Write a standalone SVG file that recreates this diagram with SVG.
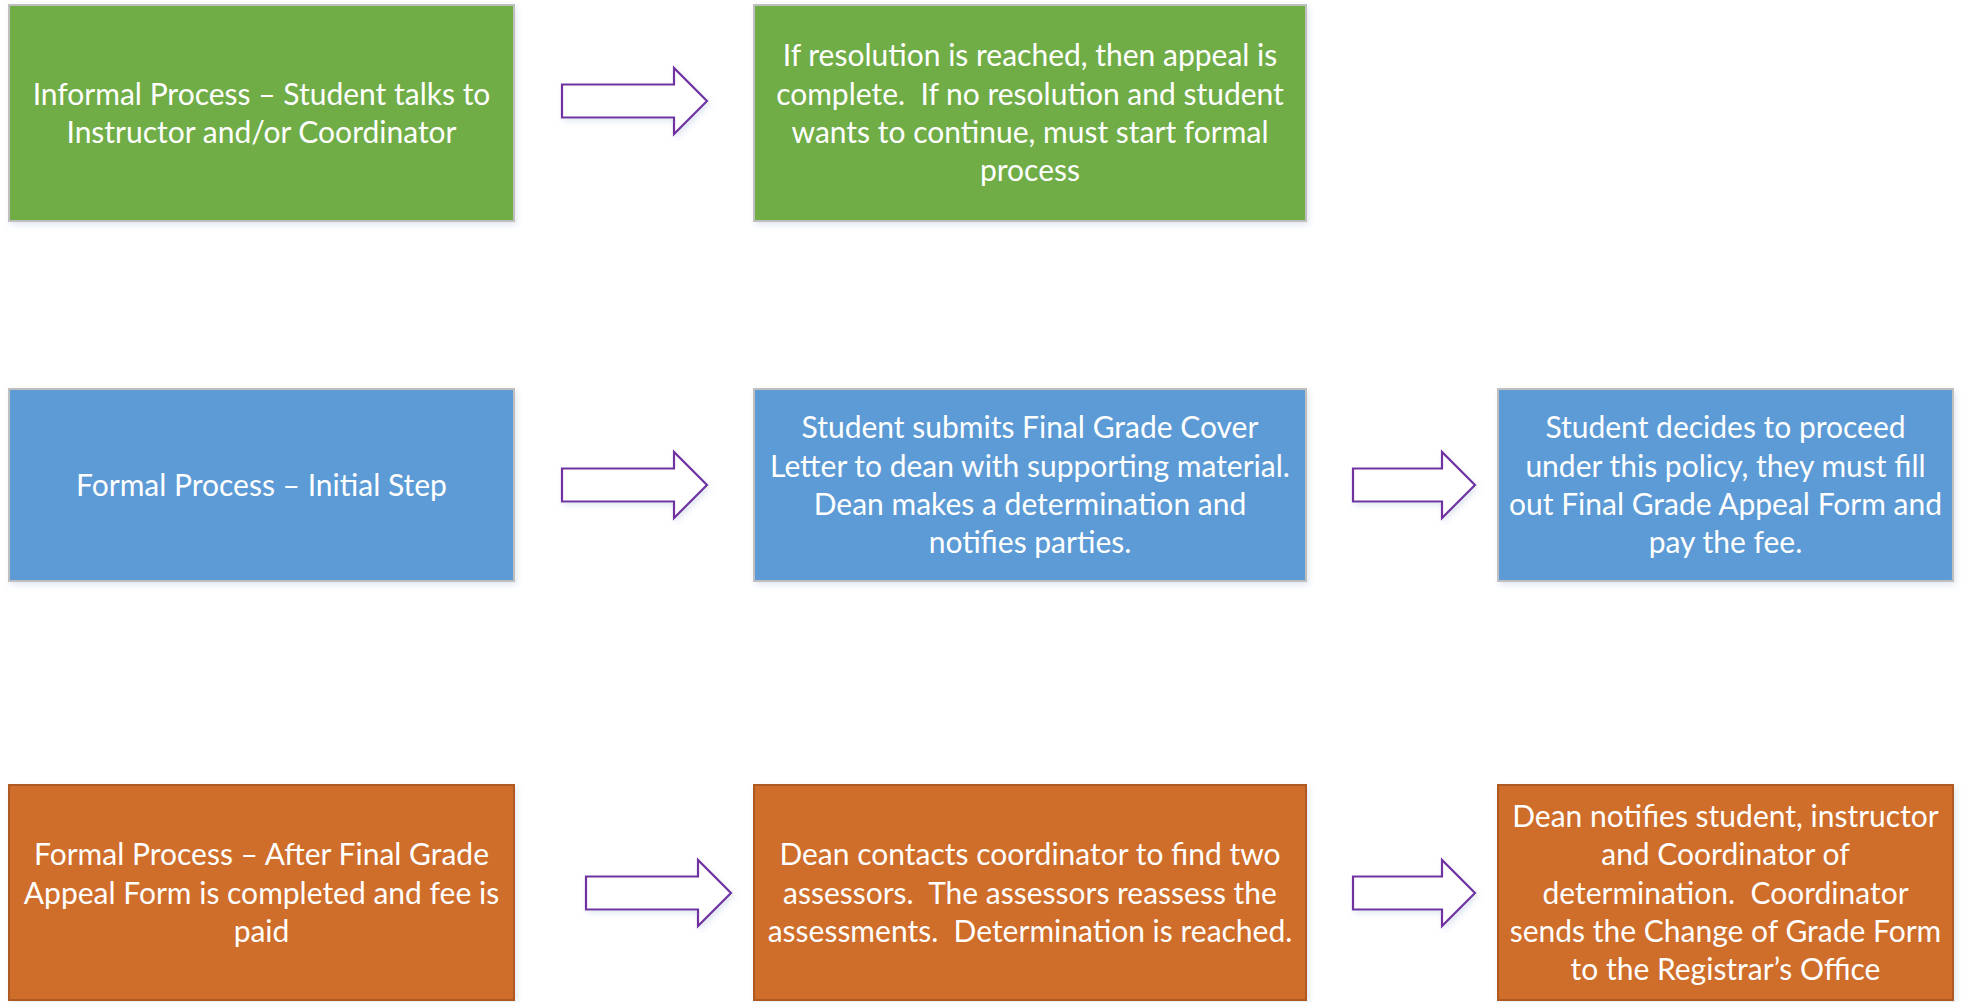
<svg xmlns="http://www.w3.org/2000/svg" width="1963" height="1002" viewBox="0 0 1963 1002">
<style>
.box{stroke-width:2}
.g{fill:#70ad47;stroke:#bfbfbf}
.b{fill:#5b9bd5;stroke:#bfbfbf}
.o{fill:#cf6d2c;stroke:#ae5a21}
.t{font-family:Lato,"Open Sans","Liberation Sans",sans-serif;font-size:30px;fill:#ffffff;text-anchor:middle;white-space:pre}
.arrow{fill:#ffffff;stroke:#7030a0;stroke-width:2.2;stroke-linejoin:miter}
</style>
<defs>
<filter id="sh" x="-5%" y="-5%" width="112%" height="115%">
<feDropShadow dx="2" dy="3" stdDeviation="3" flood-color="#a9bcd6" flood-opacity="0.35"/>
</filter>
</defs>
<rect width="1963" height="1002" fill="#ffffff"/>

<g id="connectors">
<path class="arrow" filter="url(#sh)" d="M562,84.5 H674 V68 L707,101 L674,134 V117.5 H562 Z"/>
<path class="arrow" filter="url(#sh)" d="M562,468.5 H674 V452 L707,485 L674,518 V501.5 H562 Z"/>
<path class="arrow" filter="url(#sh)" d="M1353,468.5 H1442 V452 L1475,485 L1442,518 V501.5 H1353 Z"/>
<path class="arrow" filter="url(#sh)" d="M586,876.5 H698 V860 L731,893 L698,926 V909.5 H586 Z"/>
<path class="arrow" filter="url(#sh)" d="M1353,876.5 H1442 V860 L1475,893 L1442,926 V909.5 H1353 Z"/>
</g>

<g id="informal">
<rect class="box g" filter="url(#sh)" x="9" y="5" width="505" height="216"/>
<text class="t" x="261.5" y="104.6">Informal Process – Student talks to</text>
<text class="t" x="261.5" y="142.9">Instructor and/or Coordinator</text>
</g>

<g id="resolution">
<rect class="box g" filter="url(#sh)" x="754" y="5" width="552" height="216"/>
<text class="t" x="1030" y="66.2">If resolution is reached, then appeal is</text>
<text class="t" x="1030" y="104.6">complete.  If no resolution and student</text>
<text class="t" x="1030" y="142.9">wants to continue, must start formal</text>
<text class="t" x="1030" y="181.2">process</text>
</g>

<g id="formal-initial">
<rect class="box b" filter="url(#sh)" x="9" y="389" width="505" height="192"/>
<text class="t" x="261.5" y="495.7">Formal Process – Initial Step</text>
</g>

<g id="cover-letter">
<rect class="box b" filter="url(#sh)" x="754" y="389" width="552" height="192"/>
<text class="t" x="1030" y="438.2">Student submits Final Grade Cover</text>
<text class="t" x="1030" y="476.6">Letter to dean with supporting material.</text>
<text class="t" x="1030" y="514.9">Dean makes a determination and</text>
<text class="t" x="1030" y="553.2">notifies parties.</text>
</g>

<g id="proceed">
<rect class="box b" filter="url(#sh)" x="1498" y="389" width="455" height="192"/>
<text class="t" x="1725.5" y="438.2">Student decides to proceed</text>
<text class="t" x="1725.5" y="476.6">under this policy, they must fill</text>
<text class="t" x="1725.5" y="514.9">out Final Grade Appeal Form and</text>
<text class="t" x="1725.5" y="553.2">pay the fee.</text>
</g>

<g id="formal-after">
<rect class="box o" filter="url(#sh)" x="9" y="785" width="505" height="215"/>
<text class="t" x="261.5" y="865.4">Formal Process – After Final Grade</text>
<text class="t" x="261.5" y="903.7">Appeal Form is completed and fee is</text>
<text class="t" x="261.5" y="942">paid</text>
</g>

<g id="assessors">
<rect class="box o" filter="url(#sh)" x="754" y="785" width="552" height="215"/>
<text class="t" x="1030" y="865.4">Dean contacts coordinator to find two</text>
<text class="t" x="1030" y="903.7">assessors.  The assessors reassess the</text>
<text class="t" x="1030" y="942">assessments.  Determination is reached.</text>
</g>

<g id="notify">
<rect class="box o" filter="url(#sh)" x="1498" y="785" width="455" height="215"/>
<text class="t" x="1725.5" y="827.1">Dean notifies student, instructor</text>
<text class="t" x="1725.5" y="865.4">and Coordinator of</text>
<text class="t" x="1725.5" y="903.7">determination.  Coordinator</text>
<text class="t" x="1725.5" y="942">sends the Change of Grade Form</text>
<text class="t" x="1725.5" y="980.3">to the Registrar’s Office</text>
</g>
</svg>
